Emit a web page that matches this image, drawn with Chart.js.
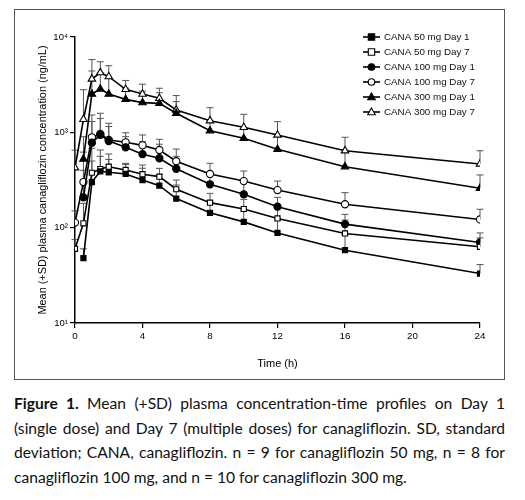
<!DOCTYPE html>
<html>
<head>
<meta charset="utf-8">
<script src="https://cdn.jsdelivr.net/npm/chart.js"></script>
<style>
body { margin: 0; background: #fff; }
#wrap { position: relative; width: 525px; height: 500px; overflow: hidden; }
#frame { position: absolute; left: 14px; top: 9px; width: 491px; height: 371px; border: 1px solid #555; box-sizing: border-box; }
#chartBox { position: absolute; left: 0; top: 0; width: 525px; height: 385px; }
#caption { position: absolute; left: 14px; top: 391px; width: 491px; font-family: Lato, "Open Sans", sans-serif; font-size: 15.6px; line-height: 24.5px; color: #111; }
.ln { white-space: nowrap; text-align: justify; text-align-last: justify; }
.ln.last { text-align-last: left; }
</style>
</head>
<body>
<div id="wrap">
  <div id="frame"></div>
  <div id="chartBox"><canvas id="pkChart"></canvas></div>
  <div id="caption">
    <div class="ln"><b>Figure 1.</b> Mean (+SD) plasma concentration-time profiles on Day 1</div>
    <div class="ln">(single dose) and Day 7 (multiple doses) for canagliflozin. SD, standard</div>
    <div class="ln">deviation; CANA, canagliflozin. n = 9 for canagliflozin 50 mg, n = 8 for</div>
    <div class="ln last">canagliflozin 100 mg, and n = 10 for canagliflozin 300 mg.</div>
  </div>
</div>
<script>
// sampling times (h)
const hours = [0, 0.5, 1, 1.5, 2, 3, 4, 5, 6, 8, 10, 12, 16, 24];

// mean concentrations (ng/mL)
const cana50Day1 = [null, 48, 301, 390, 381, 366, 316, 276, 202, 143, 115, 88, 58, 33];
const cana50Day7 = [60, 111, 377, 412, 436, 403, 364, 343, 253, 183, 157, 125, 87, 63];
const cana100Day1 = [null, 208, 778, 940, 810, 697, 590, 535, 415, 285, 224, 166, 109, 70];
const cana100Day7 = [113, 301, 887, 961, 831, 786, 730, 653, 498, 366, 308, 248, 176, 122];
const cana300Day1 = [null, 525, 2522, 2850, 2522, 2218, 2048, 2013, 1586, 1040, 866, 664, 436, 259];
const cana300Day7 = [425, 1370, 3625, 4225, 3840, 2826, 2522, 2275, 1714, 1325, 1129, 938, 641, 466];

// top of the +SD bars (mean + SD)
const cana50Day1Upper = [null, 60, 500, 560, 520, 460, 420, 360, 280, 190, 150, 120, 85, 41];
const cana50Day7Upper = [75, 180, 680, 653, 593, 473, 454, 419, 316, 229, 198, 165, 120, 78];
const cana100Day1Upper = [null, 400, 1300, 1400, 1150, 900, 800, 750, 560, 380, 300, 208, 138, 88];
const cana100Day7Upper = [150, 620, 1520, 1585, 1245, 990, 938, 845, 668, 473, 393, 308, 233, 156];
const cana300Day1Upper = [null, 900, 4400, 4200, 3700, 2900, 2700, 2600, 2100, 1300, 1100, 900, 650, 357];
const cana300Day7Upper = [650, 2800, 5800, 5500, 5000, 3500, 3200, 2900, 2430, 1814, 1545, 1294, 888, 641];

const seriesLabels = ['CANA 50 mg Day 1', 'CANA 50 mg Day 7', 'CANA 100 mg Day 1',
    'CANA 100 mg Day 7', 'CANA 300 mg Day 1', 'CANA 300 mg Day 7'];

const yTickValues = [10, 100, 1000, 10000];
const yTickLabels = ['10\u00B9', '10\u00B2', '10\u00B3', '10\u2074'];

const axisFont = 'Liberation Sans, Arial, DejaVu Sans, sans-serif';

function toPoints(values) {
    return hours.map((h, i) => ({ x: h, y: values[i] })).filter(p => p.y !== null);
}

function makeSeries(label, values, upper, style, filled) {
    return {
        label: label,
        data: toPoints(values),
        upper: upper,
        means: values,
        borderColor: '#000',
        borderWidth: 1.6,
        pointStyle: style,
        pointRadius: style === 'triangle' ? 4.3 : 3.6,
        pointHoverRadius: style === 'triangle' ? 4.3 : 3.6,
        pointBorderWidth: 1.1,
        pointBorderColor: '#000',
        pointBackgroundColor: filled ? '#000' : '#fff',
        tension: 0,
        fill: false
    };
}

// +SD error bars drawn through the chart scales
const errorBars = {
    id: 'errorBars',
    beforeDatasetsDraw(chart) {
        const ctx = chart.ctx;
        const xs = chart.scales.x;
        const ys = chart.scales.y;
        ctx.save();
        ctx.strokeStyle = '#555';
        ctx.lineWidth = 1;
        chart.data.datasets.forEach(ds => {
            hours.forEach((h, i) => {
                if (ds.means[i] === null || ds.upper[i] === null) return;
                const px = xs.getPixelForValue(h);
                const p0 = ys.getPixelForValue(ds.means[i]);
                const p1 = ys.getPixelForValue(ds.upper[i]);
                ctx.beginPath();
                ctx.moveTo(px, p0);
                ctx.lineTo(px, p1);
                ctx.moveTo(px - 3.5, p1);
                ctx.lineTo(px + 3.5, p1);
                ctx.stroke();
            });
        });
        ctx.restore();
    }
};

// legend in the top right corner of the plot
const sideLegend = {
    id: 'sideLegend',
    afterDraw(chart) {
        const ctx = chart.ctx;
        ctx.save();
        chart.data.datasets.forEach((ds, i) => {
            const y = 37 + i * 15;
            ctx.strokeStyle = '#000';
            ctx.lineWidth = 1.6;
            ctx.beginPath();
            ctx.moveTo(363, y);
            ctx.lineTo(380, y);
            ctx.stroke();
            ctx.lineWidth = 1.1;
            ctx.fillStyle = ds.pointBackgroundColor;
            const cx = 371.5;
            ctx.beginPath();
            if (ds.pointStyle === 'rect') {
                ctx.rect(cx - 3.2, y - 3.2, 6.4, 6.4);
            } else if (ds.pointStyle === 'circle') {
                ctx.arc(cx, y, 3.3, 0, Math.PI * 2);
            } else {
                ctx.moveTo(cx, y - 4);
                ctx.lineTo(cx + 3.8, y + 2.8);
                ctx.lineTo(cx - 3.8, y + 2.8);
                ctx.closePath();
            }
            ctx.fill();
            ctx.stroke();
            ctx.fillStyle = '#111';
            ctx.font = '9.8px ' + axisFont;
            ctx.textBaseline = 'middle';
            ctx.fillText(ds.label, 384, y + 0.5);
        });
        ctx.restore();
    }
};

const ctx = document.getElementById('pkChart').getContext('2d');
const pkChart = new Chart(ctx, {
    type: 'line',
    data: {
        datasets: [
            makeSeries(seriesLabels[0], cana50Day1, cana50Day1Upper, 'rect', true),
            makeSeries(seriesLabels[1], cana50Day7, cana50Day7Upper, 'rect', false),
            makeSeries(seriesLabels[2], cana100Day1, cana100Day1Upper, 'circle', true),
            makeSeries(seriesLabels[3], cana100Day7, cana100Day7Upper, 'circle', false),
            makeSeries(seriesLabels[4], cana300Day1, cana300Day1Upper, 'triangle', true),
            makeSeries(seriesLabels[5], cana300Day7, cana300Day7Upper, 'triangle', false)
        ]
    },
    options: {
        responsive: true,
        maintainAspectRatio: false,
        animation: false,
        layout: { padding: { left: 36, top: 37, right: 45, bottom: 14 } },
        plugins: {
            legend: { display: false },
            tooltip: { enabled: false }
        },
        scales: {
            x: {
                type: 'linear',
                min: 0,
                max: 24,
                grid: { drawOnChartArea: false, drawTicks: true, tickLength: 5, color: '#000', lineWidth: 1.2 },
                border: { color: '#000', width: 1.5 },
                ticks: { stepSize: 4, color: '#000', padding: 2, maxRotation: 0, font: { family: axisFont, size: 9.8 } },
                title: { display: true, text: 'Time (h)', color: '#000', padding: { top: 4, bottom: 0 }, font: { family: axisFont, size: 11 } },
                afterFit(scale) { scale.height = 48; }
            },
            y: {
                type: 'logarithmic',
                min: 10,
                max: 10000,
                afterBuildTicks(scale) { scale.ticks = yTickValues.map(v => ({ value: v })); },
                grid: { drawOnChartArea: false, drawTicks: true, tickLength: 5, color: '#000', lineWidth: 1.2 },
                border: { color: '#000', width: 1.5 },
                ticks: {
                    color: '#000',
                    padding: 2,
                    font: { family: axisFont, size: 9.5 },
                    callback: (value) => yTickLabels[yTickValues.indexOf(value)]
                },
                title: {
                    display: true,
                    text: 'Mean (+SD) plasma canagliflozin concentration (ng/mL)',
                    color: '#000',
                    padding: { top: 0, bottom: 0 },
                    font: { family: axisFont, size: 10.9 }
                },
                afterFit(scale) { scale.width = 39; }
            }
        }
    },
    plugins: [errorBars, sideLegend]
});
</script>
</body>
</html>
